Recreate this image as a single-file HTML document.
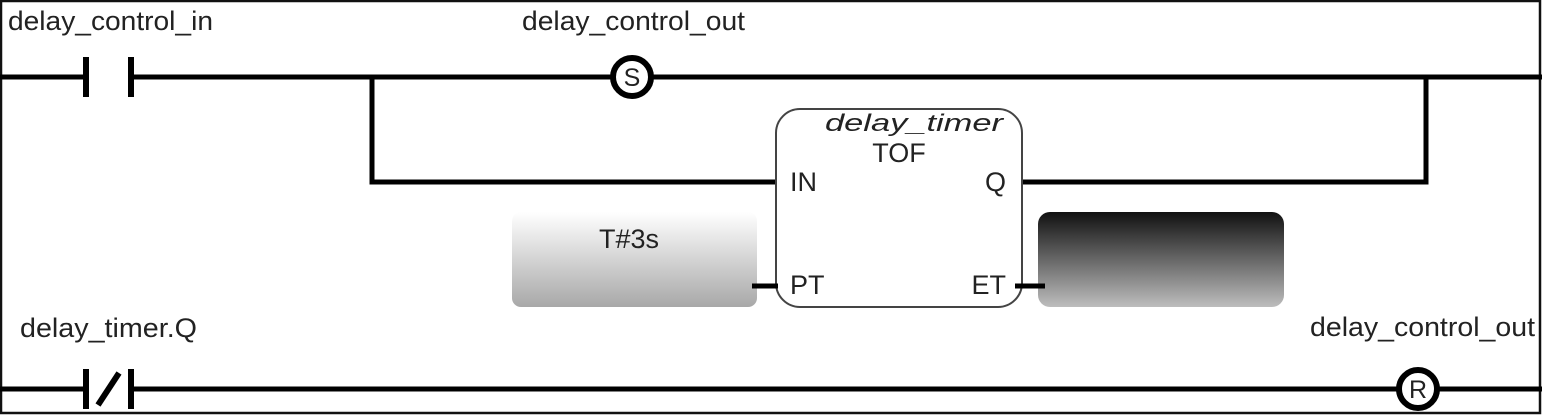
<!DOCTYPE html>
<html><head><meta charset="utf-8"><style>
html,body{margin:0;padding:0;background:#fff;}
svg{display:block;}
text{font-family:"Liberation Sans",sans-serif;fill:#222;}
</style></head><body>
<svg width="1542" height="416" viewBox="0 0 1542 416" xmlns="http://www.w3.org/2000/svg">
<defs>
<linearGradient id="g1" x1="0" y1="0" x2="0" y2="1">
<stop offset="0" stop-color="#ffffff"/><stop offset="1" stop-color="#a8a8a8"/>
</linearGradient>
<linearGradient id="g2" x1="0" y1="0" x2="0" y2="1">
<stop offset="0" stop-color="#111"/><stop offset="1" stop-color="#bdbdbd"/>
</linearGradient>
</defs>
<rect x="0" y="0" width="1542" height="416" fill="#fff"/>
<rect x="1" y="1" width="1539" height="412" fill="none" stroke="#111" stroke-width="2.5"/>

<text x="8" y="30" font-size="27" textLength="205" lengthAdjust="spacingAndGlyphs">delay_control_in</text>
<text x="522" y="30" font-size="27" textLength="223" lengthAdjust="spacingAndGlyphs">delay_control_out</text>
<text x="20" y="337" font-size="27" textLength="177" lengthAdjust="spacingAndGlyphs">delay_timer.Q</text>
<text x="1310" y="336" font-size="27" textLength="225" lengthAdjust="spacingAndGlyphs">delay_control_out</text>

<g stroke="#000" stroke-width="5" fill="none">
<line x1="0" y1="77" x2="85" y2="77"/>
<line x1="132" y1="77" x2="612" y2="77"/>
<line x1="652" y1="77" x2="1542" y2="77"/>
<line x1="86" y1="57" x2="86" y2="97" stroke-width="6"/>
<line x1="131" y1="57" x2="131" y2="97" stroke-width="6"/>
<circle cx="632" cy="77" r="19" stroke-width="6"/>
<polyline points="372,77 372,182 778,182"/>
<polyline points="1015,182 1426,182 1426,77"/>
<line x1="0" y1="389" x2="85" y2="389"/>
<line x1="132" y1="389" x2="1398" y2="389"/>
<line x1="1438" y1="389" x2="1542" y2="389"/>
<line x1="86" y1="369" x2="86" y2="409" stroke-width="6"/>
<line x1="131" y1="369" x2="131" y2="409" stroke-width="6"/>
<line x1="98" y1="405" x2="119" y2="373" stroke-width="6"/>
<circle cx="1418" cy="389" r="19" stroke-width="6"/>
</g>
<text x="632" y="86" font-size="25" text-anchor="middle" fill="#000">S</text>
<text x="1418" y="398" font-size="25" text-anchor="middle" fill="#000">R</text>

<rect x="776" y="109" width="246" height="198" rx="24" fill="#fff" stroke="#444" stroke-width="2"/>
<text x="825" y="131" font-size="24" font-style="italic" textLength="178" lengthAdjust="spacingAndGlyphs">delay_timer</text>
<text x="899" y="162" font-size="27" text-anchor="middle">TOF</text>
<text x="790" y="191" font-size="27">IN</text>
<text x="1006" y="191" font-size="27" text-anchor="end">Q</text>
<text x="790" y="294" font-size="27">PT</text>
<text x="1006" y="294" font-size="27" text-anchor="end">ET</text>

<rect x="512" y="212" width="245" height="95" rx="9" fill="url(#g1)"/>
<text x="629" y="248" font-size="27" text-anchor="middle">T#3s</text>
<rect x="1038" y="212" width="246" height="95" rx="12" fill="url(#g2)"/>
<line x1="752" y1="286" x2="778" y2="286" stroke="#000" stroke-width="5"/>
<line x1="1015" y1="286" x2="1045" y2="286" stroke="#000" stroke-width="5"/>
</svg>
</body></html>
